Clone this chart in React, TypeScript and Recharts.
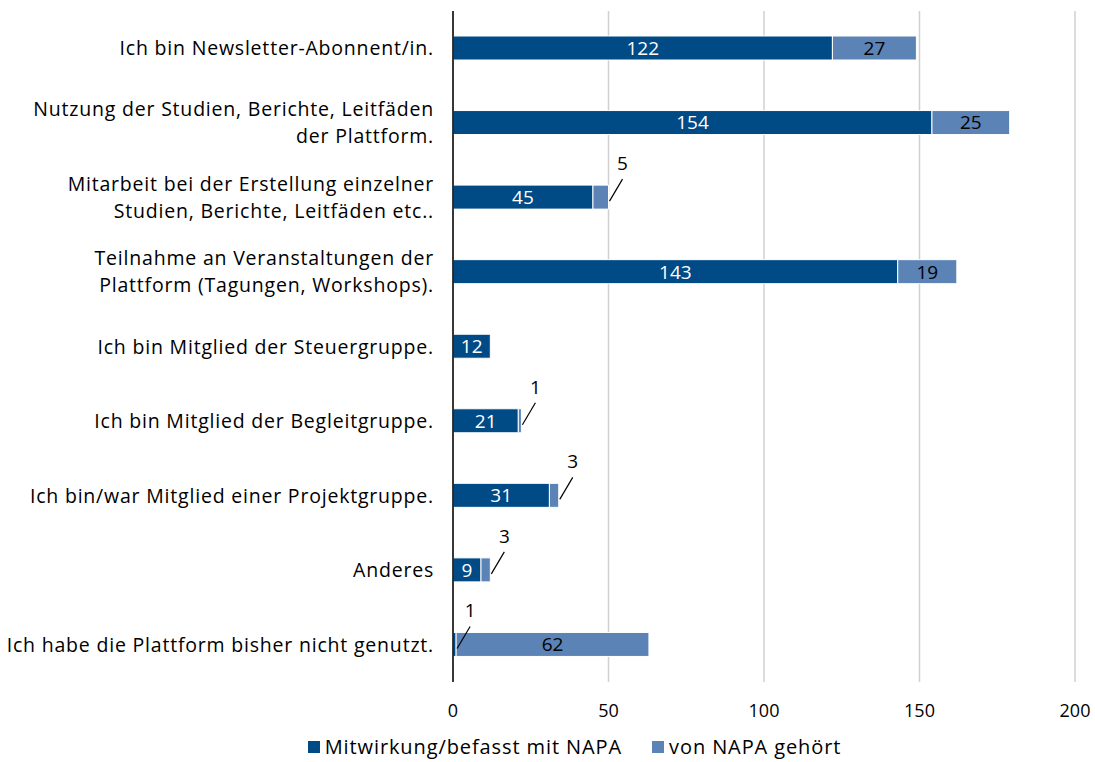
import React from 'react';
import { BarChart, Bar, XAxis, YAxis, CartesianGrid, Legend, LabelList } from 'recharts';

const CATEGORIES = [
  'Ich bin Newsletter-Abonnent/in.',
  'Nutzung der Studien, Berichte, Leitfäden\nder Plattform.',
  'Mitarbeit bei der Erstellung einzelner\nStudien, Berichte, Leitfäden etc..',
  'Teilnahme an Veranstaltungen der\nPlattform (Tagungen, Workshops).',
  'Ich bin Mitglied der Steuergruppe.',
  'Ich bin Mitglied der Begleitgruppe.',
  'Ich bin/war Mitglied einer Projektgruppe.',
  'Anderes',
  'Ich habe die Plattform bisher nicht genutzt.',
];
const MITWIRKUNG = [122, 154, 45, 143, 12, 21, 31, 9, 1];
const GEHOERT = [27, 25, 5, 19, 0, 1, 3, 3, 62];
const X_TICKS = [0, 50, 100, 150, 200];

const DARK = '#004A86';
const LIGHT = '#5B83B5';
const FONT = '"Open Sans", "Noto Sans", sans-serif';

const data = CATEGORIES.map((name, i) => ({ name, a: MITWIRKUNG[i], b: GEHOERT[i] }));

// y axis labels, can wrap on \n
function CategoryTick({ x, y, payload }: any) {
  const lines = String(payload.value).split('\n');
  const lh = 27;
  const start = y - ((lines.length - 1) * lh) / 2;
  return (
    <text x={x - 11} y={start} textAnchor="end" fontSize={19.5} letterSpacing={0.8} fontFamily={FONT} fill="#000">
      {lines.map((l, i) => (
        <tspan key={i} x={x - 11} y={start + i * lh} dy="0.36em">{l}</tspan>
      ))}
    </text>
  );
}

// small segments get the label outside with a leader line
function makeLabel(color: string) {
  return (props: any) => {
    const { x, y, width, height, value } = props;
    if (!value) return null;
    const cy = y + height / 2;
    if (value >= 9) {
      return (
        <text x={x + width / 2} y={cy} dy="0.36em" textAnchor="middle" fontSize={19} fontFamily={FONT} fill={color}>
          {value}
        </text>
      );
    }
    const ex = x + width;
    return (
      <g>
        <line x1={ex + 1} y1={cy + 4} x2={ex + 14} y2={cy - 18} stroke="#000" strokeWidth={1.2} />
        <text x={ex + 14} y={cy - 34} dy="0.36em" textAnchor="middle" fontSize={19} fontFamily={FONT} fill="#000">
          {value}
        </text>
      </g>
    );
  };
}

function LegendBox() {
  const items = [
    { label: 'Mitwirkung/befasst mit NAPA', color: DARK },
    { label: 'von NAPA gehört', color: LIGHT },
  ];
  return (
    <div style={{ display: 'flex', justifyContent: 'center', gap: 30, fontFamily: FONT, fontSize: 20, letterSpacing: 0.9, paddingTop: 11, paddingLeft: 74 }}>
      {items.map((it) => (
        <div key={it.label} style={{ display: 'flex', alignItems: 'center', gap: 5 }}>
          <span style={{ width: 12, height: 12, background: it.color, display: 'inline-block' }} />
          <span>{it.label}</span>
        </div>
      ))}
    </div>
  );
}

export default function App() {
  return (
    <div style={{ position: 'absolute', left: 0, top: 0, width: 1095, height: 762, background: '#fff' }}>
      <BarChart
        width={1095}
        height={762}
        data={data}
        layout="vertical"
        margin={{ top: 11, right: 20, left: 0, bottom: 0 }}
        barSize={24}
      >
        <CartesianGrid vertical horizontal={false} stroke="#d0d0d0" strokeWidth={1.5} />
        <XAxis
          type="number"
          domain={[0, 200]}
          ticks={X_TICKS}
          axisLine={false}
          tickLine={false}
          height={40}
          tickMargin={16}
          tick={{ fontSize: 18, fill: '#000', fontFamily: FONT }}
        />
        <YAxis
          type="category"
          dataKey="name"
          width={453}
          axisLine={{ stroke: '#000', strokeWidth: 1.5 }}
          tickLine={false}
          interval={0}
          tick={<CategoryTick />}
        />
        <Legend verticalAlign="bottom" height={40} content={<LegendBox />} />
        <Bar dataKey="a" stackId="s" name="Mitwirkung/befasst mit NAPA" fill={DARK} stroke="#fff" strokeWidth={1} isAnimationActive={false}>
          <LabelList dataKey="a" content={makeLabel('#fff')} />
        </Bar>
        <Bar dataKey="b" stackId="s" name="von NAPA gehört" fill={LIGHT} stroke="#fff" strokeWidth={1} isAnimationActive={false}>
          <LabelList dataKey="b" content={makeLabel('#000')} />
        </Bar>
      </BarChart>
    </div>
  );
}
